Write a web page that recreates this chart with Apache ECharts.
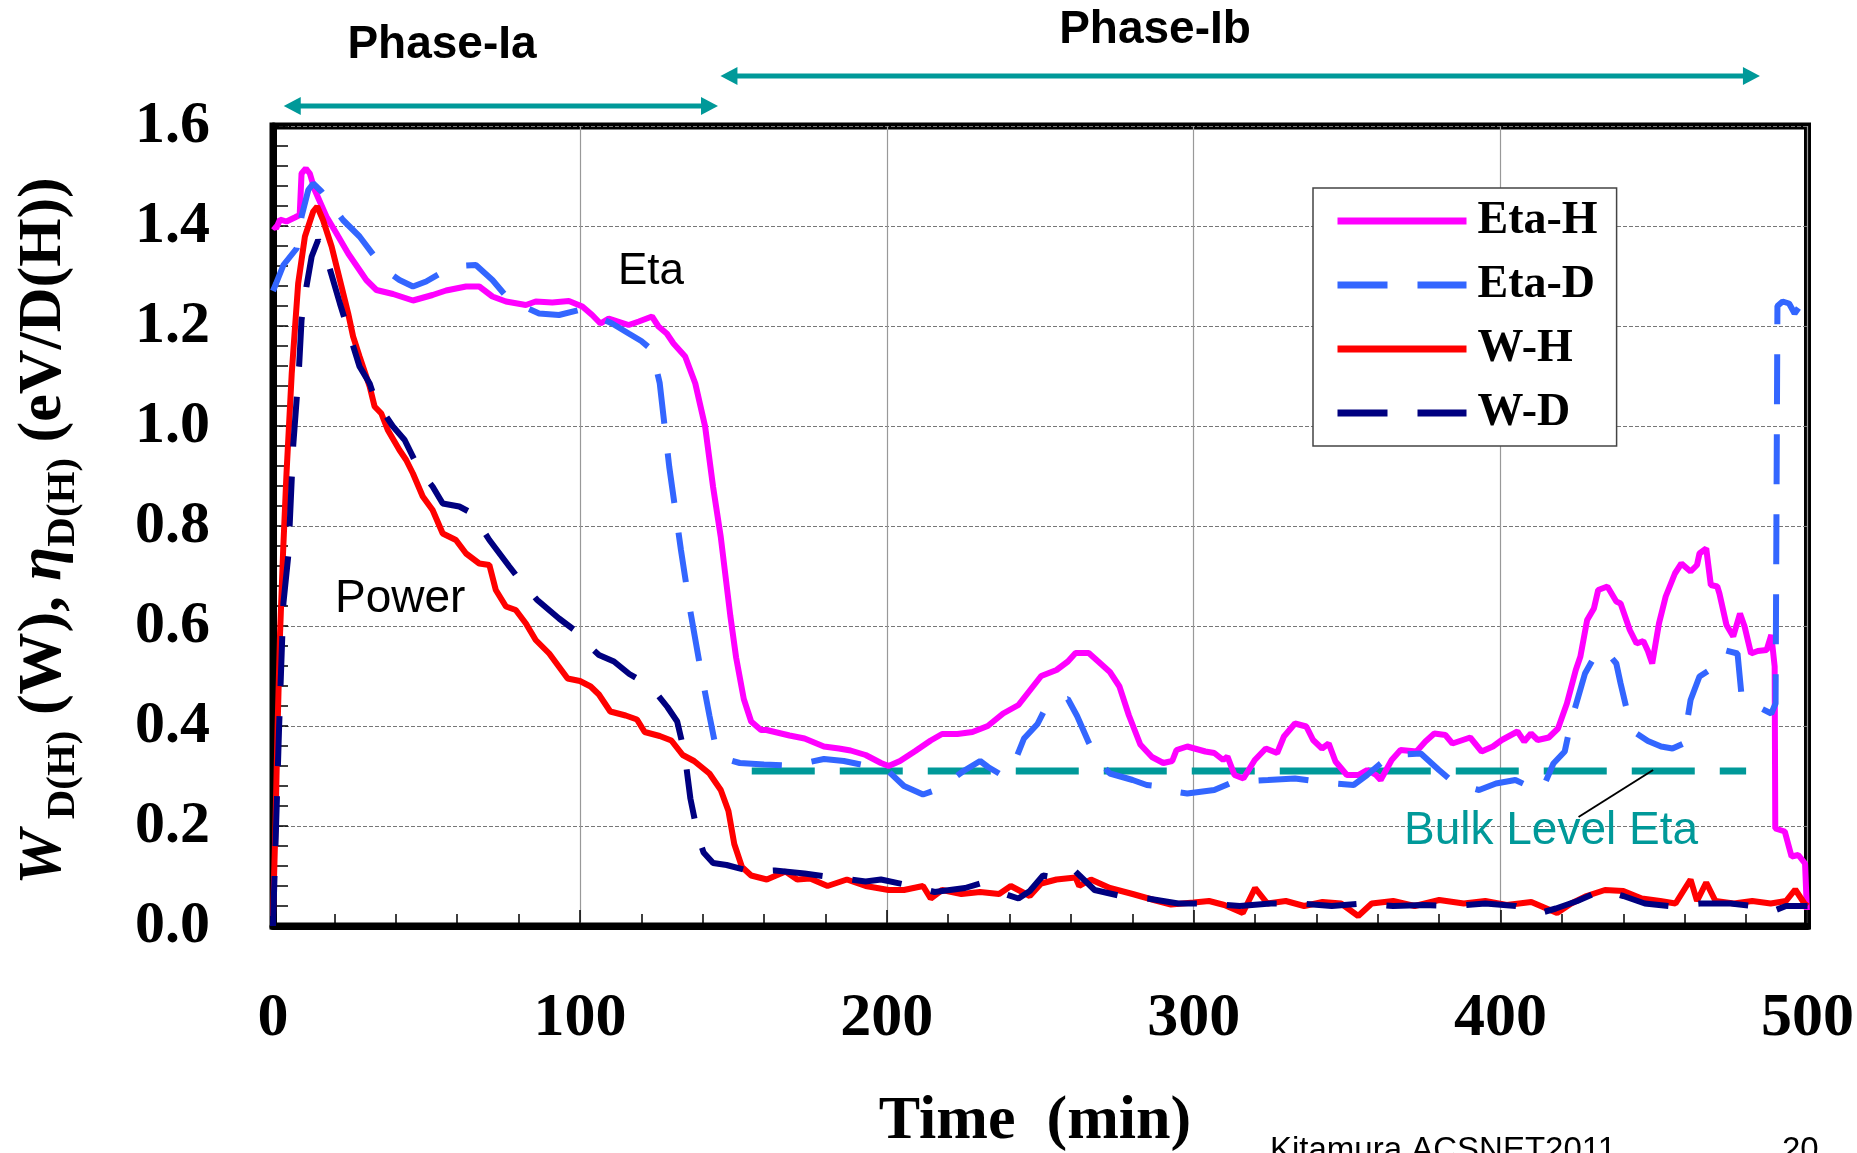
<!DOCTYPE html>
<html><head><meta charset="utf-8">
<script src="https://cdn.jsdelivr.net/npm/echarts@6/dist/echarts.min.js"></script>
<style>html,body{margin:0;padding:0;background:#fff;}#c{width:1857px;height:1153px;}</style>
</head><body><div id="c"></div>
<script>
// ---------- DATA ----------
const xTickLabels = ['0','100','200','300','400','500'];
const yTickLabels = ['0.0','0.2','0.4','0.6','0.8','1.0','1.2','1.4','1.6'];
const legendNames = ['Eta-H','Eta-D','W-H','W-D'];
const phaseIa = [3.5, 145];
const phaseIb = [145.8, 484.5];
const bulkLevel = [[156,0.31],[480,0.31]];
const bulkPointer = [[449.7,0.312],[425.4,0.218]];

const etaH = [[0,1.40],[1,1.395],[2.3,1.413],[4.4,1.409],[7.1,1.417],[8.7,1.422],[9.3,1.505],[10.7,1.515],[12,1.505],[13.6,1.472],[17.4,1.419],[20.7,1.385],[24.5,1.345],[30.4,1.292],[33.7,1.272],[39.1,1.264],[45.6,1.251],[52,1.262],[56.4,1.271],[62.9,1.279],[67.2,1.279],[71.5,1.259],[75.9,1.249],[82.4,1.242],[85.6,1.249],[91,1.247],[96.4,1.25],[100.8,1.239],[104,1.222],[106.7,1.205],[109.4,1.215],[115.9,1.202],[119.2,1.209],[123.5,1.219],[125.6,1.199],[128.3,1.185],[130.5,1.165],[134.3,1.139],[137.6,1.085],[140.8,0.999],[143.4,0.878],[145.9,0.778],[149,0.621],[150.9,0.537],[153.4,0.454],[155.8,0.409],[159,0.392],[160.8,0.392],[168.3,0.381],[173.2,0.375],[179.5,0.359],[184.4,0.355],[188.2,0.351],[193.1,0.342],[198.1,0.326],[200.6,0.32],[204.3,0.33],[209.3,0.35],[214.3,0.371],[218,0.384],[223,0.384],[227.9,0.388],[232.9,0.4],[237.9,0.425],[242.9,0.442],[246.6,0.471],[250.3,0.5],[255.3,0.512],[259,0.529],[261.5,0.546],[265.8,0.546],[268.9,0.529],[272.7,0.508],[275.8,0.479],[278.9,0.421],[282.6,0.363],[286.4,0.338],[290.1,0.326],[293,0.33],[294.4,0.352],[297.9,0.359],[303.8,0.349],[306.7,0.346],[309.6,0.332],[311,0.339],[313.3,0.302],[316.2,0.295],[319.9,0.332],[323.5,0.355],[327.2,0.346],[329.4,0.379],[333,0.405],[336.7,0.399],[338.9,0.372],[341.8,0.355],[344,0.365],[346.2,0.329],[349.9,0.302],[353.6,0.302],[356.5,0.312],[359.4,0.302],[360.9,0.292],[364.5,0.332],[367.4,0.352],[372.6,0.349],[375.5,0.369],[378.4,0.385],[382,0.382],[384.3,0.365],[390.1,0.377],[393.8,0.349],[397.5,0.359],[400.4,0.372],[405.5,0.389],[407.7,0.369],[409.9,0.385],[412.1,0.372],[415.7,0.377],[418.7,0.395],[421.6,0.445],[424.5,0.512],[426,0.539],[428.2,0.612],[430.4,0.635],[431.8,0.672],[434.8,0.679],[437.7,0.649],[439.1,0.645],[442.1,0.592],[444.3,0.565],[446.5,0.57],[448,0.55],[449.4,0.525],[451.6,0.605],[453.8,0.659],[456.8,0.705],[458.9,0.725],[461.9,0.709],[464,0.722],[464.8,0.745],[467,0.755],[468.5,0.682],[470.6,0.679],[471.3,0.665],[473.6,0.602],[475.8,0.579],[478,0.625],[479.5,0.599],[481.6,0.545],[483.8,0.55],[486.7,0.552],[488.2,0.582],[489.3,0.519],[489.5,0.195],[492.6,0.189],[494.8,0.139],[497,0.142],[499.2,0.125],[499.8,0.032]];

const etaD = [[0,1.27],[1,1.285],[3.4,1.322],[7.7,1.355],[9.3,1.419],[11.5,1.472],[13.1,1.485],[15.8,1.469],[22.8,1.412],[28.2,1.379],[33.1,1.339],[37,1.31],[41.2,1.292],[45.6,1.279],[49.9,1.289],[56.4,1.312],[61,1.32],[66.1,1.322],[71.5,1.292],[77,1.252],[86.7,1.225],[93.2,1.222],[99.7,1.232],[105,1.22],[110.5,1.205],[115.9,1.185],[120,1.17],[123.5,1.152],[126,1.086],[129.1,0.919],[132.9,0.753],[136,0.629],[139.1,0.521],[142.2,0.421],[144.1,0.363],[147,0.335],[152.1,0.326],[160,0.323],[168.3,0.321],[174,0.327],[179.5,0.334],[186,0.33],[193.1,0.321],[200.6,0.309],[205.6,0.28],[211.8,0.263],[215,0.27],[219.3,0.284],[225,0.31],[230.4,0.33],[233,0.318],[236.6,0.305],[240.4,0.309],[244.7,0.375],[249.1,0.404],[252.2,0.442],[255,0.45],[259,0.454],[262,0.42],[265.8,0.367],[269,0.33],[272.7,0.305],[280.1,0.292],[284.7,0.282],[287.6,0.28],[292,0.27],[297.9,0.265],[306.7,0.272],[313.3,0.289],[318,0.29],[324.2,0.292],[333,0.295],[340.3,0.289],[346,0.285],[352.1,0.282],[356.5,0.302],[360.9,0.325],[364.5,0.342],[374,0.345],[379.9,0.312],[385,0.285],[393,0.272],[398.5,0.285],[404.8,0.292],[409,0.28],[413.5,0.272],[417.2,0.325],[420.9,0.349],[423.1,0.412],[427.5,0.505],[431.8,0.552],[435,0.545],[437.7,0.525],[439.1,0.485],[441.4,0.425],[444.3,0.385],[448,0.37],[452.3,0.359],[456,0.355],[459.6,0.365],[461.9,0.452],[464.8,0.499],[469.9,0.519],[472.8,0.552],[477.2,0.545],[478.6,0.455],[483.7,0.439],[488.2,0.425],[489.6,0.445],[490.2,1.24],[491.9,1.249],[494,1.245],[495.8,1.225],[497.5,1.24],[499.6,1.249]];

const wH = [[0,0.02],[0.8,0.2],[1.5,0.4],[2.3,0.585],[3.3,0.75],[4.4,0.905],[6.1,1.105],[8.2,1.285],[10.4,1.379],[13.1,1.429],[14.4,1.439],[16.3,1.412],[19.1,1.359],[21.8,1.292],[24.5,1.225],[26.1,1.179],[28.2,1.139],[31.5,1.079],[33.1,1.039],[35.3,1.025],[37.4,0.992],[41.2,0.952],[43.4,0.932],[45.6,0.905],[48.8,0.859],[52,0.832],[55.3,0.785],[59.6,0.772],[62.9,0.745],[67.2,0.725],[70.5,0.722],[72.6,0.672],[75.9,0.639],[79.1,0.632],[82.4,0.605],[85.6,0.572],[90,0.545],[93,0.52],[96,0.495],[100,0.49],[103.5,0.479],[106.2,0.463],[109.9,0.429],[114.9,0.421],[118.6,0.413],[121.1,0.388],[126,0.38],[129.8,0.371],[133.5,0.342],[137.2,0.33],[142.2,0.305],[145.9,0.272],[148.4,0.23],[150.3,0.164],[152.8,0.118],[155.8,0.101],[160.9,0.093],[167,0.109],[170.8,0.093],[175,0.095],[180.7,0.08],[187,0.093],[193.1,0.08],[200.6,0.072],[205.6,0.072],[211.8,0.08],[214.3,0.055],[218,0.072],[224.3,0.064],[230.4,0.068],[236.6,0.064],[240.4,0.08],[246.6,0.06],[250.3,0.085],[255.3,0.093],[261.5,0.097],[262.7,0.08],[266.5,0.093],[272.7,0.076],[280.1,0.064],[287.6,0.051],[292.6,0.043],[300,0.047],[305,0.05],[310,0.042],[316,0.026],[320,0.076],[324,0.045],[330,0.05],[336,0.04],[342,0.048],[348,0.045],[353.6,0.02],[358,0.045],[365,0.05],[372,0.04],[380,0.052],[388,0.045],[395,0.05],[402,0.042],[410,0.048],[418.4,0.026],[423,0.045],[428,0.06],[434,0.072],[440,0.07],[446,0.055],[452,0.05],[457,0.045],[461.9,0.093],[464,0.05],[467,0.087],[470,0.05],[476,0.045],[482,0.05],[488,0.045],[493,0.05],[496,0.073],[499,0.045],[500,0.04]];

const wD = [[0,0.0],[1,0.2],[2,0.4],[3.4,0.646],[5,0.742],[6.6,0.962],[8.5,1.119],[9.3,1.212],[10.9,1.279],[12.6,1.339],[14.7,1.372],[18,1.325],[21.8,1.245],[25.5,1.172],[28.2,1.119],[31.5,1.085],[33.7,1.045],[36.9,1.019],[39.1,0.999],[42.9,0.972],[47.7,0.912],[52,0.879],[55.3,0.845],[60.7,0.839],[65,0.825],[70.5,0.772],[77,0.719],[81.3,0.685],[86.1,0.652],[93.2,0.615],[99.7,0.585],[103,0.56],[106.2,0.542],[111.1,0.529],[116.1,0.504],[120,0.49],[124.2,0.471],[128.5,0.438],[131.7,0.409],[134.1,0.346],[136,0.255],[138.5,0.18],[140.3,0.147],[143.4,0.126],[147.8,0.122],[155.8,0.109],[163.5,0.111],[173.2,0.105],[182.9,0.097],[193.1,0.089],[198.1,0.093],[208,0.08],[215.6,0.068],[225.5,0.076],[230.4,0.085],[236.6,0.068],[242.9,0.055],[246.6,0.07],[250.9,0.101],[256.6,0.095],[261.5,0.109],[267.7,0.072],[276.3,0.06],[285,0.055],[295,0.045],[305,0.045],[315,0.04],[325,0.045],[335,0.045],[345,0.04],[355,0.045],[365,0.04],[375,0.042],[385,0.04],[395,0.045],[405,0.04],[412.4,0.025],[418,0.035],[425,0.05],[433.3,0.072],[440,0.06],[447,0.045],[455,0.04],[465,0.045],[475,0.045],[482,0.04],[488,0.028],[493,0.04],[500,0.04]];

// ---------- CHART ----------
const TEAL = '#009999';
const chart = echarts.init(document.getElementById('c'), null, {renderer: 'canvas'});

function lineSeries(name, data, color, dash, z) {
  return {
    name: name, type: 'line', data: data, symbol: 'none', showSymbol: false,
    smooth: false, animation: false, z: z,
    lineStyle: {color: color, width: 6, type: dash || 'solid'},
    itemStyle: {color: color}
  };
}

const option = {
  animation: false,
  backgroundColor: '#fff',
  grid: {left: 273, top: 126, right: 44, bottom: 227, show: true,
         borderColor: '#000', borderWidth: 7, backgroundColor: 'transparent'},
  xAxis: {
    type: 'value', min: 0, max: 500, interval: 100,
    axisLine: {show: true, onZero: false, lineStyle: {color: '#000', width: 7}},
    axisTick: {show: true, inside: true, length: 16, lineStyle: {color: '#000', width: 1.5}},
    minorTick: {show: true, splitNumber: 5, length: 12, lineStyle: {color: '#000', width: 1.5}},
    splitLine: {show: true, lineStyle: {color: '#999', width: 1.2, type: 'solid'}},
    axisLabel: {
      margin: 62, color: '#000', fontFamily: 'Liberation Serif', fontWeight: 'bold', fontSize: 62,
      formatter: function (v) { return xTickLabels[Math.round(v / 100)]; }
    }
  },
  yAxis: {
    type: 'value', min: 0, max: 1.6, interval: 0.2,
    axisLine: {show: true, onZero: false, lineStyle: {color: '#000', width: 7}},
    axisTick: {show: true, inside: true, length: 15, lineStyle: {color: '#000', width: 1.5}},
    minorTick: {show: true, splitNumber: 5, length: 15, lineStyle: {color: '#000', width: 1.5}},
    splitLine: {show: true, lineStyle: {color: '#777', width: 1.2, type: [4, 2]}},
    axisLabel: {
      margin: 63, color: '#000', fontFamily: 'Liberation Serif', fontWeight: 'bold', fontSize: 60,
      formatter: function (v) { return yTickLabels[Math.round(v / 0.2)]; }
    }
  },
  legend: {
    data: legendNames, orient: 'vertical', left: 1313, top: 188,
    backgroundColor: '#fff', borderColor: '#444', borderWidth: 1.5,
    padding: [10, 19, 10, 21], itemGap: 18, itemWidth: 129, itemHeight: 2,
    lineStyle: {width: 7},
    itemStyle: {opacity: 0, borderWidth: 0},
    textStyle: {color: '#000', fontFamily: 'Liberation Serif', fontWeight: 'bold', fontSize: 46,
                lineHeight: 46, padding: [0, 0, 0, 6]}
  },
  series: [
    {name: 'Bulk Level Eta', type: 'line', data: bulkLevel, symbol: 'none', z: 1, animation: false,
     lineStyle: {color: TEAL, width: 7, type: [63, 25]}, itemStyle: {color: TEAL}},
    {name: 'pointer', type: 'line', data: bulkPointer, symbol: 'none', z: 6, animation: false,
     lineStyle: {color: '#000', width: 2}, itemStyle: {color: '#000'}},
    lineSeries('Eta-H', etaH, '#FF00FF', null, 2),
    lineSeries('Eta-D', etaD, '#3366FF', [50, 30], 3),
    lineSeries('W-H', wH, '#FF0000', null, 4),
    lineSeries('W-D', wD, '#000080', [50, 30], 5)
  ]
};
chart.setOption(option);

// ---------- ANNOTATIONS ----------
function px(t) { return chart.convertToPixel({gridIndex: 0}, [t, 0])[0]; }
function arrow(t0, t1, y) {
  const x0 = px(t0), x1 = px(t1), h = 17, w = 9;
  return [
    {type: 'line', shape: {x1: x0 + h - 2, y1: y, x2: x1 - h + 2, y2: y}, style: {stroke: TEAL, lineWidth: 5}, z: 10},
    {type: 'polygon', shape: {points: [[x0, y], [x0 + h, y - w], [x0 + h, y + w]]}, style: {fill: TEAL}, z: 10},
    {type: 'polygon', shape: {points: [[x1, y], [x1 - h, y - w], [x1 - h, y + w]]}, style: {fill: TEAL}, z: 10}
  ];
}
function txt(s, x, y, size, opts) {
  opts = opts || {};
  return {type: 'text', x: x, y: y, z: 20, style: {
    text: s, fill: opts.color || '#000', font: (opts.weight || 'normal') + ' ' + size + 'px ' + (opts.family || '"Liberation Sans"'),
    textAlign: opts.align || 'left', textVerticalAlign: 'middle'}};
}

// rotated y-axis title, laid out piece by piece
const ctx = document.createElement('canvas').getContext('2d');
const MAIN = 62, SUB = 41;
const pieces = [
  {t: 'W', size: MAIN, style: 'italic bold', sub: false},
  {t: ' D(H)', size: SUB, style: 'bold', sub: true},
  {t: ' (W), ', size: MAIN, style: 'bold', sub: false},
  {t: '\u03b7', size: MAIN, style: 'italic bold', sub: false},
  {t: 'D(H)', size: SUB, style: 'bold', sub: true},
  {t: ' (eV/D(H))', size: MAIN, style: 'bold', sub: false}
];
let total = 0;
pieces.forEach(p => { p.font = p.style + ' ' + p.size + 'px "Liberation Serif"'; ctx.font = p.font; p.w = ctx.measureText(p.t).width; total += p.w; });
let cx = -total / 2;
const titleChildren = pieces.map(p => {
  const el = {type: 'text', x: cx, y: (p.sub ? 13 : 0) + p.size * 0.216, style: {text: p.t, font: p.font, fill: '#000', textAlign: 'left', textVerticalAlign: 'bottom'}};
  cx += p.w;
  return el;
});

const graphics = []
  .concat(arrow(phaseIa[0], phaseIa[1], 106))
  .concat(arrow(phaseIb[0], phaseIb[1], 76))
  .concat([
    txt('Phase-Ia', 442, 45, 46, {weight: 'bold', align: 'center'}),
    txt('Phase-Ib', 1155, 30, 46, {weight: 'bold', align: 'center'}),
    txt('Eta', 618, 272, 44),
    txt('Power', 335, 599, 46),
    txt('Bulk Level Eta', 1404, 831, 46, {color: TEAL}),
    txt('Time  (min)', 1035, 1122, 62, {weight: 'bold', align: 'center', family: '"Liberation Serif"'}),
    txt('Kitamura ACSNET2011', 1270, 1151, 33),
    txt('20', 1782, 1151, 33),
    {type: 'group', x: 62, y: 531, rotation: Math.PI / 2, z: 20, children: titleChildren}
  ]);
chart.setOption({graphic: graphics});
</script></body></html>
